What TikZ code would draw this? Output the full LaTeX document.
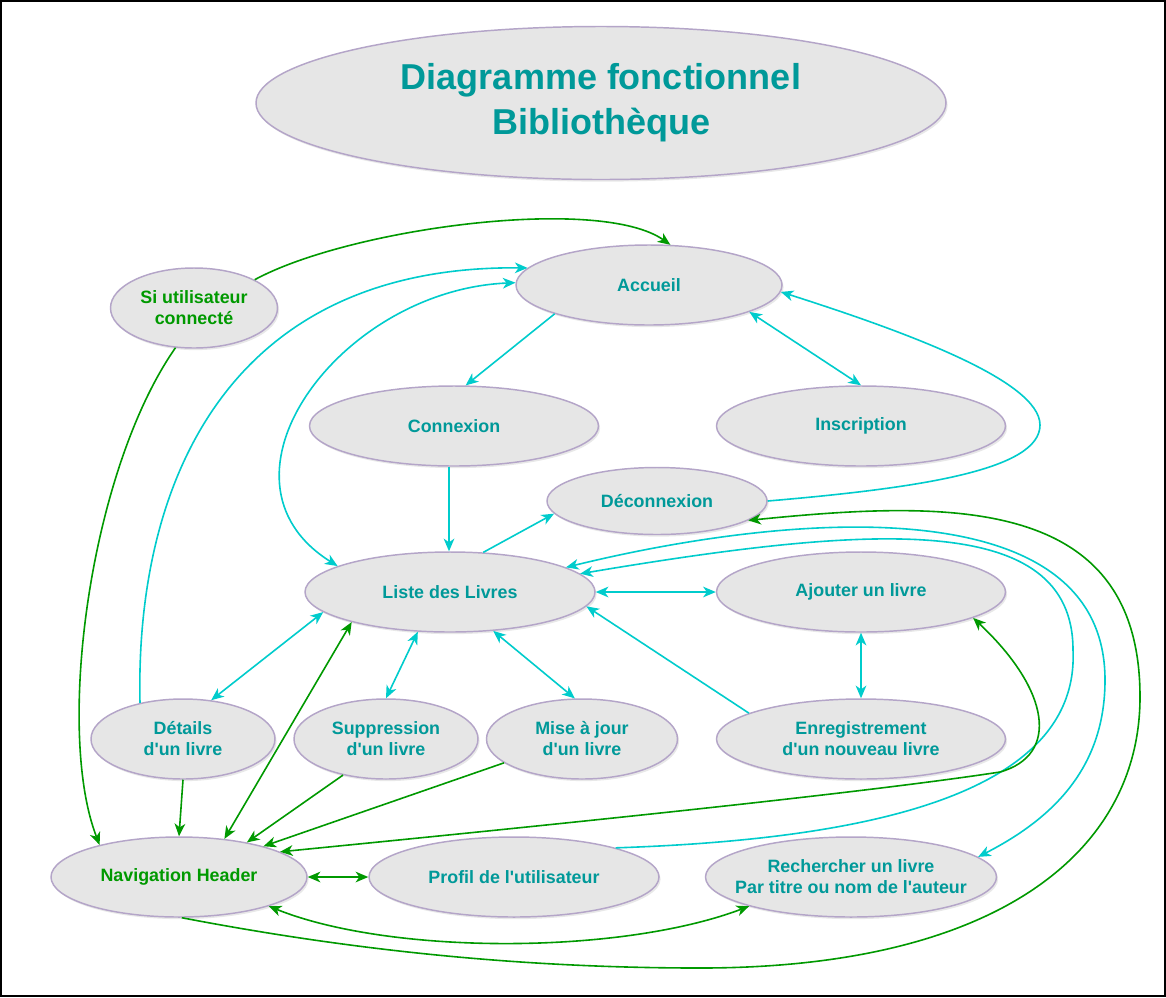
\documentclass[tikz,border=0pt]{standalone}
\usepackage{fontspec}
\setmainfont{Liberation Sans}[Ligatures=TeXOff]
\usetikzlibrary{shapes.geometric,arrows.meta,shadows}
\definecolor{tealtxt}{RGB}{0,153,153}
\definecolor{grn}{RGB}{0,153,0}
\definecolor{cyn}{RGB}{0,204,204}
\definecolor{ellfill}{RGB}{230,230,230}
\definecolor{ellbord}{RGB}{180,165,200}
\tikzset{
  ell/.style={ellipse, draw=ellbord, line width=1.1pt, fill=ellfill, inner sep=0pt,
    align=center, font=\bfseries\fontsize{13.4pt}{15.75pt}\selectfont, text=tealtxt,
    drop shadow={opacity=0.18, shadow xshift=1.2pt, shadow yshift=-1.6pt}},
  gtxt/.style={text=grn},
  mytip/.tip={Stealth[length=9.5pt,width=8pt,inset=2.8pt]},
  gl/.style={draw=grn, line width=1.2pt},
  cl/.style={draw=cyn, line width=1.2pt},
}
\begin{document}
\begin{tikzpicture}[x=0.75pt,y=-0.75pt]
\draw[black, line width=1.2pt, fill=white] (0.8,0.8) rectangle (1165.2,996.2);
\useasboundingbox (0,0) rectangle (1166,997);
% nodes
\node[ell, minimum width=517.5pt, minimum height=114.75pt, font=\bfseries\fontsize{27pt}{33.75pt}\selectfont] (ttl) at (601,103) {Diagramme fonctionnel\\Bibliothèque};
\node[ell, minimum width=199.5pt, minimum height=60pt] (acc) at (649,285) {Accueil};
\node[ell, gtxt, minimum width=125.25pt, minimum height=60pt] (si) at (194,308) {Si utilisateur\\ connecté};
\node[ell, minimum width=216.75pt, minimum height=60pt] (con) at (454,426) {Connexion};
\node[ell, minimum width=216.75pt, minimum height=60pt] (ins) at (861,426) {Inscription};
\node[ell, minimum width=165pt, minimum height=50.25pt] (dec) at (657,501) {Déconnexion};
\node[ell, minimum width=217.5pt, minimum height=60pt] (lst) at (450,592) {Liste des Livres};
\node[ell, minimum width=216.75pt, minimum height=60pt] (aj) at (861,592) {Ajouter un livre};
\node[ell, minimum width=138pt, minimum height=60pt] (det) at (183,739) {Détails\\d'un livre};
\node[ell, minimum width=138pt, minimum height=60pt] (sup) at (386,739) {Suppression\\d'un livre};
\node[ell, minimum width=143.25pt, minimum height=60pt] (maj) at (582,739) {Mise à jour\\d'un livre};
\node[ell, minimum width=216.75pt, minimum height=60pt] (enr) at (861,739) {Enregistrement\\d'un nouveau livre};
\node[ell, gtxt, minimum width=192pt, minimum height=60pt] (nav) at (179,877) {Navigation Header};
\node[ell, minimum width=217.5pt, minimum height=60pt] (prof) at (514,877) {Profil de l'utilisateur};
\node[ell, minimum width=218.25pt, minimum height=60pt, inner xsep=-15pt] (rech) at (851,877) {Rechercher un livre\\Par titre ou nom de l'auteur};
% cyan connectors
\path[cl, -{mytip}] (det.140) .. controls (135,480) and (230,265) .. (acc.172);
\path[cl, {mytip}-{mytip}] (acc.179) .. controls (340,290) and (200,480) .. (lst.167);
\path[cl, -{mytip}] (acc.197) -- (con.74);
\path[cl, {mytip}-{mytip}] (acc.-15) -- (ins.north);
\path[cl, -{mytip}] (con.263) -- (con.263 |- lst.north);
\path[cl, -{mytip}] (lst.50) -- (dec.187);
\path[cl, -{mytip}] (dec.east) .. controls (920,488) and (1040,470) .. (1040,425) .. controls (1040,380) and (900,330) .. (acc.-3);
\path[cl, {mytip}-{mytip}] (lst.east) -- (aj.west);
\path[cl, -{mytip}] (enr.167.5) -- (lst.-6);
\path[cl, {mytip}-{mytip}] (aj.south) -- (enr.north);
\path[cl, {mytip}-{mytip}] (lst.189.5) -- (det.54);
\path[cl, {mytip}-{mytip}] (lst.231) -- (sup.north);
\path[cl, {mytip}-{mytip}] (lst.-42) -- (maj.100);
\path[cl, -{mytip}] (prof.16) .. controls (850,840) and (1080,800) .. (1073,650) .. controls (1073,510) and (870,525) .. (lst.8.5);
\path[cl, {mytip}-{mytip}] (lst.12.5) .. controls (800,510) and (1105,490) .. (1105,680) .. controls (1105,770) and (1050,820) .. (rech.9);
% green connectors
\path[gl, -{mytip}] (si.25) .. controls (350,228) and (600,195) .. (acc.62);
\path[gl, -{mytip}] (si.245) .. controls (90,470) and (55,730) .. (nav.158);
\path[gl, -{mytip}] (det.south) -- (nav.north);
\path[gl, {mytip}-{mytip}] (lst.197) -- (nav.40);
\path[gl, -{mytip}] (sup.220) -- (nav.27);
\path[gl, -{mytip}] (maj.197) -- (nav.20.5);
\path[gl, {mytip}-{mytip}] (nav.14) .. controls (500,830) and (850,795) .. (1000,772) .. controls (1060,755) and (1050,690) .. (aj.-13);
\path[gl, {mytip}-{mytip}] (nav.east) -- (prof.west);
\path[gl, {mytip}-{mytip}] (nav.-18) .. controls (390,955) and (620,955) .. (rech.196);
\path[gl, -{mytip}] (nav.-86) .. controls (350,950) and (520,968) .. (700,968) .. controls (1000,968) and (1140,850) .. (1140,697) .. controls (1140,495) and (950,500) .. (dec.-12);
\end{tikzpicture}
\end{document}
